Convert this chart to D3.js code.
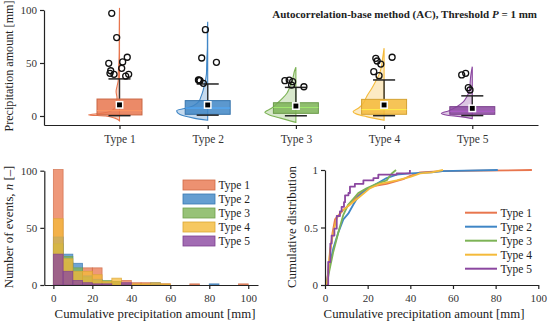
<!DOCTYPE html>
<html><head><meta charset="utf-8">
<script src="https://cdn.jsdelivr.net/npm/d3@7"></script>
<style>
body{margin:0;background:#fff}
svg{display:block}
text{font-family:"Liberation Serif","Times New Roman",serif;fill:#222}
</style>
</head><body>
<svg id="c" width="550" height="326"></svg>
<script>
// ---------------- DATA ----------------
const types = ["Type 1","Type 2","Type 3","Type 4","Type 5"];
const colors = ["#E8764E","#3F86C6","#7DB356","#F4BA3A","#8B47A0"];

// box-plot statistics [mm]
const q1 = [1.0, 1.6, 2.5, 1.6, 1.6];
const median = [5.0, 7.5, 8.0, 6.0, 4.5];
const q3 = [16.0, 14.5, 12.5, 15.7, 8.8];
const mean = [10.5, 10.4, 9.4, 10.4, 7.2];
const whiskerLow = [0.3, 0.8, 0.2, 0.3, 0.4];
const whiskerHigh = [35.0, 30.2, 27.0, 34.0, 19.0];

// outliers [mm] and their horizontal jitter (fraction of category step)
const outlierValues = [
  [96.9, 74.0, 55.4, 51.0, 49.7, 45.0, 42.7, 40.3, 39.3, 37.7, 39.3],
  [81.4, 54.7, 50.6, 34.0, 33.8, 33.3, 30.8],
  [33.3, 33.9, 32.4, 29.2, 27.6],
  [54.4, 51.9, 49.0, 55.4, 41.8, 38.0],
  [38.7, 40.3, 26.7, 24.5]
];
const outlierJitter = [
  [-0.088, -0.032, 0.088, 0.036, -0.122, 0.025, -0.100, -0.108, -0.062, 0.070, 0.104],
  [-0.026, -0.068, 0.099, -0.105, -0.096, -0.087, -0.049],
  [-0.125, -0.076, -0.037, -0.049, 0.091],
  [-0.094, -0.079, -0.037, 0.091, -0.117, -0.057],
  [-0.120, -0.075, -0.045, -0.026]
];

// half-violin densities: [value mm, relative density]
const density1 = [[-4.5,0],[-2,0.15],[0,0.45],[1,1.0],[2.5,0.6],[5,0.26],[8,0.15],[12,0.11],[17,0.08],[23,0.11],[28,0.08],[34,0.04],[40,0.04],[50,0.02],[60,0.01],[80,0.008],[102,0]];
const density2 = [[-4,0],[-2,0.45],[0,0.75],[3,0.97],[5,1.0],[7,0.75],[10,0.45],[14,0.28],[18,0.22],[24,0.15],[30,0.1],[34,0.07],[40,0.04],[50,0.03],[55,0.025],[65,0.01],[80,0.01],[89,0]];
const density3 = [[-6,0],[-2,0.5],[1,0.85],[3.5,1.0],[7,0.8],[12,0.6],[17,0.42],[21.4,0.29],[27,0.2],[32.4,0.13],[38,0.08],[42,0.05],[46,0]];
const density4 = [[-4,0],[-0.6,0.57],[2,0.9],[4,1.0],[8,0.8],[13,0.65],[18,0.57],[26,0.4],[34,0.25],[40,0.15],[46.5,0.085],[52,0.06],[58,0.03],[64,0]];
const density5 = [[-2.5,0],[-0.6,0.39],[1,0.85],[2.5,1.0],[5,0.75],[8.8,0.5],[13,0.3],[18,0.18],[24,0.1],[29,0.075],[35,0.06],[40,0.04],[46.5,0]];
const densities = [density1, density2, density3, density4, density5];

// histogram (5 mm bins)
const binStarts = [0,5,10,15,20,25,30,35,40,45,50,55,60,65,70,75,80,85,90,95];
const counts1 = [101,20,10,15,15,2,3,4,2,2,1,1,0,0,1,0,0,0,0,1];
const counts2 = [42,27,19,8,5,2,3,0,0,0,2,0,0,0,0,0,1,0,0,0];
const counts3 = [36,25,15,7,4,4,3,0,0,0,0,0,0,0,0,0,0,0,0,0];
const counts4 = [58,23,12,12,9,3,6,1,1,1,2,1,0,0,0,0,0,0,0,0];
const counts5 = [27,12,4,2,1,1,0,2,0,0,0,0,0,0,0,0,0,0,0,0];
const histCounts = [counts1, counts2, counts3, counts4, counts5];

// cumulative distributions: [amount mm, F]
const cdf1 = [[0.8,0],[1.5,0.12],[2.5,0.3],[3.5,0.45],[4.7,0.57],[7,0.62],[9,0.66],[11.7,0.7],[15,0.77],[18,0.82],[22.7,0.86],[28.9,0.88],[36.7,0.92],[40,0.95],[44.6,0.98],[55,0.99],[74,0.994],[97,1]];
const cdf2 = [[0.8,0],[1.6,0.12],[3.9,0.32],[6.3,0.46],[8.6,0.57],[10.9,0.62],[13.3,0.7],[15.6,0.77],[19.5,0.83],[24.2,0.88],[28.9,0.93],[33.6,0.96],[39.8,0.97],[50,0.98],[55,0.99],[81,1]];
const cdf3 = [[0.8,0],[2,0.12],[3.9,0.29],[6.3,0.46],[8.6,0.61],[10.9,0.7],[13.3,0.75],[15.6,0.8],[19.5,0.84],[24.2,0.88],[28.9,0.91],[31.3,0.97],[33.3,1]];
const cdf4 = [[0.8,0],[1.5,0.1],[2.3,0.29],[3.9,0.46],[5.5,0.58],[7.8,0.64],[11.7,0.7],[16.4,0.77],[21,0.84],[25.8,0.88],[33.6,0.91],[40,0.94],[44.6,0.97],[50,0.98],[55.3,1]];
const cdf5 = [[0.8,0],[1.5,0.2],[2.5,0.36],[3.1,0.43],[4.4,0.49],[5.5,0.6],[7,0.64],[7.8,0.68],[8.9,0.72],[9.4,0.78],[11,0.8],[11.7,0.855],[14,0.88],[18,0.91],[22.7,0.93],[25,0.96],[33.6,0.97],[39.8,1]];
const cdfs = [cdf1, cdf2, cdf3, cdf4, cdf5];

const topYTicks = [0,50,100];
const histYTicks = [0,50,100];
const histXTicks = [0,20,40,60,80,100];
const cdfYTicks = [0,0.5,1];
const cdfXTicks = [0,20,40,60,80,100];

// ---------------- DRAW ----------------
const svg = d3.select("#c");
const TICKFS = 11, LABFS = 12.8;

function styleAxis(g){
  g.attr("font-family",null).attr("font-size",null);
  g.selectAll("path.domain").attr("stroke","#222").attr("stroke-width",1.2);
  g.selectAll(".tick line").attr("stroke","#222").attr("stroke-width",1.2);
  g.selectAll(".tick text").attr("font-size",TICKFS).style("fill","#333");
}

// ===== Top panel =====
const xTop = d3.scaleLinear().domain([-0.856,4.745]).range([44,538]);
const yTop = d3.scaleLinear().domain([-8.5,100]).range([125,10]);
const step = xTop(1)-xTop(0);
const boxW = 0.51*step, capW = 0.25*step, violW = 31;

const gTop = svg.append("g");
densities.forEach((dens,i)=>{
  const cx = xTop(i);
  const area = d3.area().curve(d3.curveMonotoneY)
    .y(d=>yTop(d[0])).x0(cx).x1(d=>cx - d[1]*violW);
  gTop.append("path").attr("d",area(dens))
    .attr("fill",colors[i]).attr("fill-opacity",0.3)
    .attr("stroke",colors[i]).attr("stroke-width",1.1);
});
types.forEach((t,i)=>{
  const cx = xTop(i);
  const c = colors[i];
  gTop.append("line").attr("x1",cx).attr("x2",cx)
    .attr("y1",yTop(q3[i])).attr("y2",yTop(whiskerHigh[i]))
    .attr("stroke","#333").attr("stroke-width",1.4);
  gTop.append("rect").attr("x",cx-boxW/2).attr("width",boxW)
    .attr("y",yTop(q3[i])).attr("height",yTop(q1[i])-yTop(q3[i]))
    .attr("fill",c).attr("fill-opacity",0.85)
    .attr("stroke",d3.color(c).darker(0.4)).attr("stroke-width",1);
  gTop.append("line").attr("x1",cx-boxW/2).attr("x2",cx+boxW/2)
    .attr("y1",yTop(median[i])).attr("y2",yTop(median[i]))
    .attr("stroke",d3.color(c).brighter(0.7)).attr("stroke-width",1);
  [whiskerHigh[i], whiskerLow[i]].forEach(v=>{
    gTop.append("line").attr("x1",cx-capW/2).attr("x2",cx+capW/2)
      .attr("y1",yTop(v)).attr("y2",yTop(v))
      .attr("stroke","#222").attr("stroke-width",1.5);
  });
  gTop.append("rect").attr("x",cx-3.2).attr("y",yTop(mean[i])-3.2)
    .attr("width",6.4).attr("height",6.4)
    .attr("fill","#000").attr("stroke","#fff").attr("stroke-width",1.5);
  outlierValues[i].forEach((v,k)=>{
    gTop.append("circle").attr("cx",xTop(i+outlierJitter[i][k])).attr("cy",yTop(v))
      .attr("r",3).attr("fill","none").attr("stroke","#111").attr("stroke-width",1.3);
  });
});
const axTopX = svg.append("g").attr("transform","translate(0,125)")
  .call(d3.axisBottom(xTop).tickValues([0,1,2,3,4]).tickFormat(i=>types[i]).tickSize(4).tickSizeOuter(0).tickPadding(6));
styleAxis(axTopX);
axTopX.selectAll(".tick text").attr("font-size",11.5);
const axTopY = svg.append("g").attr("transform","translate(44,0)")
  .call(d3.axisLeft(yTop).tickValues(topYTicks).tickSize(4).tickSizeOuter(0).tickPadding(3));
styleAxis(axTopY);
svg.append("text").attr("transform","translate(13,66) rotate(-90)")
  .attr("text-anchor","middle").attr("font-size",12.1).text("Precipitation amount [mm]");
const title = svg.append("text").attr("x",537).attr("y",18).attr("text-anchor","end")
  .attr("font-size",11).attr("font-weight","bold");
title.append("tspan").text("Autocorrelation-base method (AC), Threshold ");
title.append("tspan").attr("font-style","italic").text("P");
title.append("tspan").text(" = 1 mm");

// ===== Bottom-left histogram =====
const xH = d3.scaleLinear().domain([-4.65,105]).range([44.3,258]);
const yH = d3.scaleLinear().domain([0,100]).range([285,170.7]);
const gH = svg.append("g");
histCounts.forEach((cnt,i)=>{
  gH.selectAll(null).data(binStarts.map((b,k)=>({b,n:cnt[k]})).filter(d=>d.n>0))
    .enter().append("rect")
    .attr("x",d=>xH(d.b)).attr("width",d=>xH(d.b+5)-xH(d.b))
    .attr("y",d=>yH(d.n)).attr("height",d=>yH(0)-yH(d.n))
    .attr("fill",colors[i]).attr("fill-opacity",0.75)
    .attr("stroke",d3.color(colors[i]).darker(0.3)).attr("stroke-opacity",0.8).attr("stroke-width",0.8);
});
const axHX = svg.append("g").attr("transform","translate(0,285)")
  .call(d3.axisBottom(xH).tickValues(histXTicks).tickSize(4).tickSizeOuter(0).tickPadding(5));
styleAxis(axHX);
const axHY = svg.append("g").attr("transform","translate(44.3,0)")
  .call(d3.axisLeft(yH).tickValues(histYTicks).tickSize(4).tickSizeOuter(0).tickPadding(3));
styleAxis(axHY);
svg.append("text").attr("x",155).attr("y",318).attr("text-anchor","middle")
  .attr("font-size",LABFS).text("Cumulative precipitation amount [mm]");
const hyl = svg.append("text").attr("transform","translate(13,227) rotate(-90)")
  .attr("text-anchor","middle").attr("font-size",LABFS);
hyl.append("tspan").text("Number of events, ");
hyl.append("tspan").attr("font-style","italic").text("n");
hyl.append("tspan").text(" [\u2013]");
types.forEach((t,i)=>{
  const cy = 185 + i*14;
  svg.append("rect").attr("x",183).attr("y",cy-5).attr("width",32).attr("height",10)
    .attr("fill",colors[i]).attr("fill-opacity",0.8)
    .attr("stroke",d3.color(colors[i]).darker(0.3)).attr("stroke-width",0.8);
  svg.append("text").attr("x",218.5).attr("y",cy+4).attr("font-size",11.5).text(t);
});

// ===== Bottom-right CDF =====
const xC = d3.scaleLinear().domain([0,100]).range([325,538.3]);
const yC = d3.scaleLinear().domain([0,1]).range([285,170]);
const gC = svg.append("g");
cdfs.forEach((pts,i)=>{
  const line = d3.line().x(d=>xC(d[0])).y(d=>yC(d[1]))
    .curve(i===4 ? d3.curveStepAfter : d3.curveLinear);
  gC.append("path").attr("d",line(pts)).attr("fill","none")
    .attr("stroke",colors[i]).attr("stroke-width",1.8).attr("stroke-linejoin","round");
});
const axCX = svg.append("g").attr("transform","translate(0,285)")
  .call(d3.axisBottom(xC).tickValues(cdfXTicks).tickSize(4).tickSizeOuter(0).tickPadding(5));
styleAxis(axCX);
const axCY = svg.append("g").attr("transform","translate(325,0)")
  .call(d3.axisLeft(yC).tickValues(cdfYTicks).tickFormat(d3.format("")).tickSize(4).tickSizeOuter(0).tickPadding(3));
styleAxis(axCY);
svg.append("text").attr("x",424).attr("y",318).attr("text-anchor","middle")
  .attr("font-size",LABFS).text("Cumulative precipitation amount [mm]");
svg.append("text").attr("transform","translate(296,227) rotate(-90)")
  .attr("text-anchor","middle").attr("font-size",LABFS).text("Cumulative distribution");
types.forEach((t,i)=>{
  const cy = 212.7 + i*14;
  svg.append("line").attr("x1",465).attr("x2",497).attr("y1",cy).attr("y2",cy)
    .attr("stroke",colors[i]).attr("stroke-width",2);
  svg.append("text").attr("x",500.5).attr("y",cy+4).attr("font-size",11.5).text(t);
});
</script>
</body></html>
